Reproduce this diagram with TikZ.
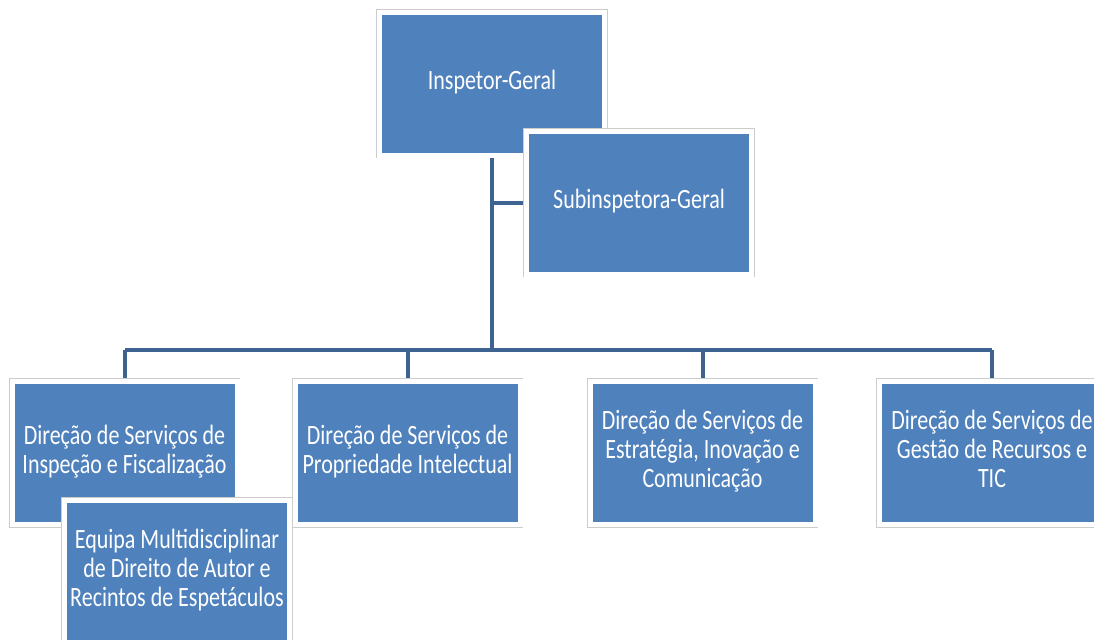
\documentclass[tikz,border=0pt]{standalone}
\usepackage{fontspec}
\usepackage{graphicx}
\setmainfont{Carlito}
\usetikzlibrary{backgrounds}
\definecolor{boxblue}{HTML}{4F81BD}
\definecolor{linkblue}{HTML}{3F6390}
\newcommand{\boxtext}[1]{\scalebox{1}[1.27]{\fontsize{16.5pt}{17.1pt}\selectfont\begin{tabular}{@{}c@{}}#1\end{tabular}}}
\begin{document}
\begin{tikzpicture}[x=0.75pt,y=-0.75pt,
  orgbox/.style={rectangle, fill=boxblue, draw=white, line width=3.75pt,
    preaction={draw=gray!40, line width=4.8pt},
    minimum width=168.75pt, minimum height=107.25pt, inner sep=0pt,
    align=center, text=white},
  link/.style={draw=linkblue, line width=3pt}]
\useasboundingbox (0,0) rectangle (1094,639);
\clip (0,0) rectangle (1094,639);
\node[orgbox] (ig) at (492,83.5) {\boxtext{Inspetor-Geral}};
\node[orgbox] (sub) at (639,202.5) {\boxtext{Subinspetora-Geral}};
\node[orgbox] (d1) at (124.5,453) {\boxtext{Direção de Serviços de\\Inspeção e Fiscalização}};
\node[orgbox] (d2) at (407.5,453) {\boxtext{Direção de Serviços de\\Propriedade Intelectual}};
\node[orgbox] (d3) at (702.5,453) {\boxtext{Direção de Serviços de\\Estratégia, Inovação e\\Comunicação}};
\node[orgbox] (d4) at (992,453) {\boxtext{Direção de Serviços de\\Gestão de Recursos e\\TIC}};
\node[orgbox] (eq) at (177,572) {\boxtext{Equipa Multidisciplinar\\de Direito de Autor e\\Recintos de Espetáculos}};
\coordinate (bus) at (492,350);
\begin{pgfonlayer}{background}
\draw[link] (ig.south) -- (ig.south |- bus);
\draw[link] (ig.south |- sub.west) -- (sub.west);
\draw[link] (d1.north |- bus) -- (d4.north |- bus);
\draw[link] (d1.north |- bus) -- (d1.north);
\draw[link] (d2.north |- bus) -- (d2.north);
\draw[link] (d3.north |- bus) -- (d3.north);
\draw[link] (d4.north |- bus) -- (d4.north);
\end{pgfonlayer}
\end{tikzpicture}
\end{document}
